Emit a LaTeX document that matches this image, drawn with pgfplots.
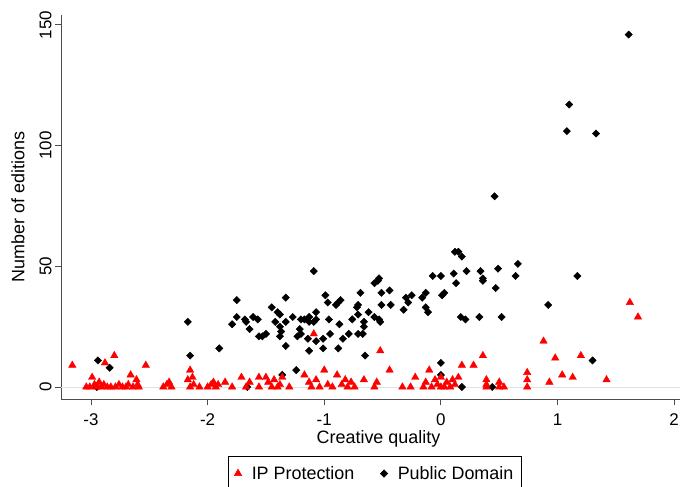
\documentclass[border=0pt]{standalone}
\usepackage{fontspec}
\setmainfont{Liberation Sans}
\usepackage{pgfplots}
\pgfplotsset{compat=1.18}

% Public domain titles: creative quality vs. number of editions
\pgfplotstableread{
x y
1.61 146
1.10 117
1.08 106
1.33 105
0.46 79
0.12 56
0.15 56
0.18 54
-0.07 46
0.00 46
0.11 47
0.22 48
0.34 48
0.36 45
0.49 49
0.66 51
0.64 46
1.17 46
0.13 43
0.36 44
0.47 41
0.03 39
0.01 38
0.92 34
0.17 29
0.21 28
0.33 29
0.52 29
0.00 10
1.30 11
0.18 0
0.44 0
0.00 5
-1.09 48
-0.57 43
-0.54 44
-0.53 45
-0.44 40
-0.51 39
-0.69 39
-0.99 38
-0.86 36
-0.88 35
-0.97 35
-0.90 34
-0.71 34
-0.72 33
-0.51 34
-0.43 34
-0.30 37
-0.25 38
-0.28 35
-0.16 37
-0.13 39
-0.13 33
-0.11 31
-0.32 32
-0.62 31
-0.71 30
-0.57 29
-0.53 28
-0.52 27
-1.07 31
-1.07 28
-0.96 28
-0.76 28
-0.66 27
-1.13 27
-0.87 26
-0.66 25
-0.67 22
-0.71 22
-0.79 22
-0.95 22
-0.84 20
-1.01 20
-1.07 19
-1.01 16
-0.88 16
-1.13 15
-0.65 13
-1.33 37
-1.75 36
-1.45 33
-1.40 31
-1.38 30
-1.42 27
-1.33 27
-1.27 29
-1.20 28
-1.17 28
-1.09 27
-1.13 29
-1.61 29
-1.57 28
-1.68 28
-1.67 27
-1.75 29
-1.79 26
-1.64 24
-2.17 27
-1.38 25
-1.37 23
-1.38 21
-1.50 22
-1.53 21
-1.56 21
-1.21 24
-1.20 22
-1.23 21
-1.14 20
-1.33 17
-1.90 16
-2.15 13
-1.24 7
-1.36 5
-1.66 0
-2.94 11
-2.84 8
-2.95 0
}\publicdomain

% Titles under IP protection
\pgfplotstableread{
x y
-3.16 9
-3.04 0
-3.01 0
-2.99 4
-2.97 1
-2.95 0
-2.93 2
-2.91 0
-2.89 1
-2.88 10
-2.86 0
-2.83 0
-2.80 13
-2.79 0
-2.76 1
-2.73 0
-2.70 0
-2.68 1
-2.66 5
-2.64 0
-2.61 3
-2.60 1
-2.59 0
-2.53 9
-2.38 0
-2.35 1
-2.33 2
-2.31 0
-2.17 3
-2.15 7
-2.13 4
-2.15 0
-2.12 1
-2.07 0
-2.00 0
-1.97 1
-1.95 2
-1.93 0
-1.91 1
-1.85 2
-1.79 0
-1.71 4
-1.67 0
-1.64 2
-1.56 4
-1.56 0
-1.50 4
-1.48 2
-1.45 0
-1.43 3
-1.40 0
-1.38 1
-1.36 4
-1.30 0
-1.17 5
-1.13 2
-1.11 0
-1.09 22
-1.07 3
-1.04 0
-1.00 7
-0.97 1
-0.93 0
-0.89 5
-0.85 1
-0.82 3
-0.80 0
-0.77 2
-0.74 0
-0.66 3
-0.57 0
-0.55 2
-0.52 15
-0.44 7
-0.33 0
-0.26 0
-0.22 4
-0.15 0
-0.13 2
-0.10 7
-0.08 0
-0.05 3
-0.03 1
0.00 4
0.00 0
0.03 0
0.05 2
0.08 0
0.10 3
0.12 1
0.15 4
0.18 9
0.28 9
0.36 13
0.39 3
0.39 1
0.39 0
0.50 0
0.50 2
0.54 0
0.74 6
0.74 3
0.74 0
0.88 19
0.93 2
0.98 12
1.04 5
1.13 4
1.20 13
1.42 3
1.62 35
1.69 29
}\ipprotection

\begin{document}
\begin{tikzpicture}
\begin{axis}[
  scale only axis, width=619bp, height=384bp,
  xmin=-3.257, xmax=2.05, ymin=-4.97, ymax=154.1,
  axis x line*=bottom, axis y line*=left,
  axis line style={draw=black!70, line width=0.9pt},
  xtick={-3,-2,-1,0,1,2}, ytick={0,50,100,150},
  tick align=outside, major tick length=6bp,
  tick style={draw=black!70, line width=0.9pt},
  /pgf/number format/assume math mode=true,
  ticklabel style={font=\fontsize{17}{17}\selectfont},
  xticklabel style={yshift=-5bp},
  yticklabel style={rotate=90, anchor=south},
  xlabel={Creative quality}, ylabel={Number of editions},
  label style={font=\fontsize{18}{18}\selectfont},
  xlabel style={yshift=2bp, xshift=8bp},
  ylabel style={yshift=8bp},
  legend columns=2,
  legend style={at={(axis description cs:0.507,0)}, anchor=north, yshift=-57bp,
    draw=black, line width=0.6pt, font=\fontsize{18}{18}\selectfont,
    inner xsep=6bp, inner ysep=8bp,
    /tikz/every odd column/.append style={column sep=8bp},
    /tikz/every even column/.append style={column sep=24bp}},
  legend cell align=left,
]
\addplot[black!12, line width=0.6pt, forget plot] coordinates {(-3.257,0) (2.05,0)};
\addlegendimage{only marks, mark=triangle*, mark size=4.3bp, red}
\addlegendentry{IP Protection}
\addlegendimage{only marks, mark=square*, mark size=2.6bp, mark options={rotate=45}, black}
\addlegendentry{Public Domain}
\addplot[only marks, mark=square*, mark size=2.6bp, mark options={rotate=45}, black, forget plot]
  table[x=x, y=y] {\publicdomain};
\addplot[only marks, mark=triangle*, mark size=4.3bp, red, forget plot]
  table[x=x, y=y] {\ipprotection};
\end{axis}
\pgfresetboundingbox
\path (current axis.south west) ++(-61bp,-88bp) rectangle ++(683bp,487bp);
\end{tikzpicture}
\end{document}
